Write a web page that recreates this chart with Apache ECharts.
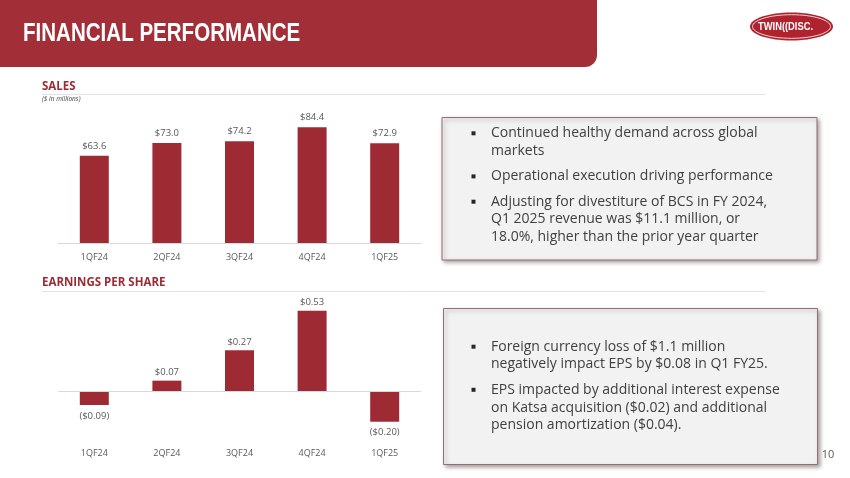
<!DOCTYPE html>
<html>
<head>
<meta charset="utf-8">
<script src="https://cdn.jsdelivr.net/npm/echarts@6/dist/echarts.min.js"></script>
<style>
  html, body { margin: 0; padding: 0; background: #fff; }
  #main { width: 850px; height: 478px; }
</style>
</head>
<body>
<div id="main"></div>
<script>
const quarters = ['1QF24', '2QF24', '3QF24', '4QF24', '1QF25'];
const salesValues = [63.6, 73.0, 74.2, 84.4, 72.9];
const epsValues = [-0.09, 0.07, 0.27, 0.53, -0.20];

const salesNotes = [
    ['Continued healthy demand across global', 'markets'],
    ['Operational execution driving performance'],
    ['Adjusting for divestiture of BCS in FY 2024,', 'Q1 2025 revenue was $11.1 million, or', '18.0%, higher than the prior year quarter']
];
const epsNotes = [
    ['Foreign currency loss of $1.1 million', 'negatively impact EPS by $0.08 in Q1 FY25.'],
    ['EPS impacted by additional interest expense', 'on Katsa acquisition ($0.02) and additional', 'pension amortization ($0.04).']
];

const RED = '#9e2b34';
const GREY_TEXT = '#595959';
const FONT = "'Open Sans', 'Noto Sans', sans-serif";
const NARROW = "'Liberation Sans', Arial, sans-serif"; // squeezed with scaleX below

const chart = echarts.init(document.getElementById('main'));

// bullets for the two note boxes
function bulletBlock(notes, firstLineY) {
    const els = [];
    const lh = 17.8;
    let y = firstLineY;
    notes.forEach((lines) => {
        els.push({
            type: 'rect',
            shape: { x: 471.5, y: y - 2, width: 4, height: 4 },
            style: { fill: '#262626' }
        });
        els.push({
            type: 'text',
            x: 491,
            y: y - lh / 2,
            style: {
                text: lines.join('\n'),
                font: '14px ' + FONT,
                fill: '#404040',
                lineHeight: lh,
                verticalAlign: 'top'
            }
        });
        y += lines.length * lh + 7.5;
    });
    return els;
}

const graphics = [
    // header band
    {
        type: 'rect',
        shape: { x: 0, y: 0, width: 597, height: 67, r: [0, 0, 12, 0] },
        style: { fill: '#a22f38' }
    },
    {
        type: 'text', x: 23, y: 34, scaleX: 0.79,
        style: {
            text: 'FINANCIAL PERFORMANCE',
            font: 'bold 26px ' + NARROW,
            fill: '#fff', verticalAlign: 'middle'
        }
    },
    // logo
    {
        type: 'ellipse',
        shape: { cx: 791.5, cy: 26.5, rx: 41.5, ry: 14 },
        style: { fill: '#b0222e' }
    },
    {
        type: 'ellipse',
        shape: { cx: 791.5, cy: 26.5, rx: 39, ry: 11.8 },
        style: { fill: 'none', stroke: '#fff', lineWidth: 0.8 }
    },
    {
        type: 'text', x: 758, y: 27, scaleX: 0.85,
        style: {
            text: 'TWIN((DISC.',
            font: 'bold 11px ' + NARROW,
            fill: '#fff', verticalAlign: 'middle'
        }
    },
    // section titles
    {
        type: 'text', x: 42, y: 87,
        style: { text: 'SALES', font: 'bold 11.5px ' + FONT, fill: '#9e2b34', verticalAlign: 'middle' }
    },
    {
        type: 'line', shape: { x1: 42, y1: 94.5, x2: 765, y2: 94.5 },
        style: { stroke: '#e3e3e3', lineWidth: 1 }
    },
    {
        type: 'text', x: 42, y: 99.5,
        style: { text: '($ in millions)', font: 'italic 6.5px ' + FONT, fill: '#404040', verticalAlign: 'middle' }
    },
    {
        type: 'text', x: 42, y: 283,
        style: { text: 'EARNINGS PER SHARE', font: 'bold 11.5px ' + FONT, fill: '#9e2b34', verticalAlign: 'middle' }
    },
    {
        type: 'line', shape: { x1: 42, y1: 291.5, x2: 765, y2: 291.5 },
        style: { stroke: '#e3e3e3', lineWidth: 1 }
    },
    // note boxes
    {
        type: 'rect',
        shape: { x: 442, y: 117.5, width: 375, height: 142.5 },
        style: {
            fill: '#f2f2f2', stroke: '#9a6b6f', lineWidth: 1,
            shadowBlur: 4, shadowOffsetX: 2, shadowOffsetY: 2, shadowColor: 'rgba(0,0,0,0.35)'
        }
    },
    {
        type: 'rect',
        shape: { x: 443.5, y: 308.5, width: 374, height: 156 },
        style: {
            fill: '#f2f2f2', stroke: '#9a6b6f', lineWidth: 1,
            shadowBlur: 4, shadowOffsetX: 2, shadowOffsetY: 2, shadowColor: 'rgba(0,0,0,0.35)'
        }
    },
    ...bulletBlock(salesNotes, 133.3),
    ...bulletBlock(epsNotes, 346.7),
    // page number
    {
        type: 'text', x: 828, y: 455,
        style: { text: '10', font: '11px ' + FONT, fill: GREY_TEXT, align: 'center', verticalAlign: 'middle' }
    }
];

const option = {
    backgroundColor: '#fff',
    animation: false,
    grid: [
        { left: 58, width: 363, top: 106, height: 137 },
        { left: 58, width: 363, top: 300, height: 140 }
    ],
    xAxis: [
        {
            type: 'category', gridIndex: 0, data: quarters,
            axisLine: { lineStyle: { color: '#d9d9d9' } },
            axisTick: { show: false },
            axisLabel: { color: GREY_TEXT, fontSize: 9, fontFamily: FONT, margin: 10 }
        },
        {
            type: 'category', gridIndex: 1, data: quarters,
            axisLine: { show: false, onZero: false },
            axisTick: { show: false },
            axisLabel: { color: GREY_TEXT, fontSize: 9, fontFamily: FONT, margin: 9 }
        }
    ],
    yAxis: [
        { type: 'value', gridIndex: 0, min: 0, max: 100, show: false },
        { type: 'value', gridIndex: 1, min: -0.32, max: 0.6, show: false }
    ],
    series: [
        {
            type: 'bar', xAxisIndex: 0, yAxisIndex: 0,
            data: salesValues,
            barWidth: 29,
            itemStyle: { color: RED },
            label: {
                show: true, position: 'top', distance: 5,
                color: GREY_TEXT, fontSize: 9.5, fontFamily: FONT,
                formatter: (p) => '$' + p.value.toFixed(1)
            }
        },
        {
            type: 'bar', xAxisIndex: 1, yAxisIndex: 1,
            data: epsValues.map((v) => ({
                value: v,
                label: { position: v < 0 ? 'bottom' : 'top', distance: v < 0 ? 6 : 3 }
            })),
            barWidth: 29,
            itemStyle: { color: RED },
            label: {
                show: true,
                color: GREY_TEXT, fontSize: 9.5, fontFamily: FONT,
                formatter: (p) => p.value < 0
                    ? '($' + Math.abs(p.value).toFixed(2) + ')'
                    : '$' + p.value.toFixed(2)
            },
            markLine: {
                silent: true,
                symbol: 'none',
                label: { show: false },
                lineStyle: { color: '#d9d9d9', type: 'solid', width: 1 },
                data: [{ yAxis: 0 }]
            }
        }
    ],
    graphic: graphics
};

chart.setOption(option);
</script>
</body>
</html>
